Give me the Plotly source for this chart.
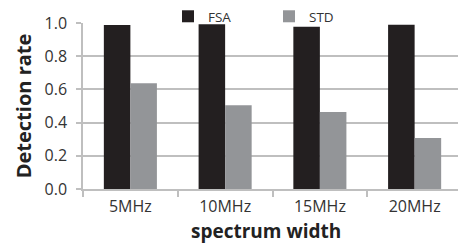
import plotly.graph_objects as go

categories = ["5MHz", "10MHz", "15MHz", "20MHz"]
fsa = [0.988, 0.992, 0.978, 0.990]
std = [0.637, 0.504, 0.464, 0.307]
y_ticks = [0.0, 0.2, 0.4, 0.6, 0.8, 1.0]
y_tick_labels = ["0.0", "0.2", "0.4", "0.6", "0.8", "1.0"]

FONT = "Open Sans, Lato, sans-serif"
# page body has an 8px margin, so the figure is drawn 8px in from the window's top-left
W, H = 458, 239
ML, MR, MT, MB = 75, 4, 15, 58
PLOT_W = W - ML - MR
PLOT_H = H - MT - MB

fig = go.Figure()
fig.add_trace(go.Bar(name="FSA", x=categories, y=fsa, marker=dict(color="#231f20", line=dict(width=0))))
fig.add_trace(go.Bar(name="STD", x=categories, y=std, marker=dict(color="#939598", line=dict(width=0))))

fig.update_layout(
    width=W, height=H,
    margin=dict(l=ML, r=MR, t=MT, b=MB, autoexpand=False),
    paper_bgcolor="white", plot_bgcolor="white",
    barmode="group", bargap=0.44, bargroupgap=0,
    font=dict(family=FONT, size=16, color="#333333"),
    showlegend=True,
    legend=dict(orientation="h", x=(168 - ML - 8) / PLOT_W, xanchor="left",
                y=1 + 6.5 / PLOT_H, yanchor="middle",
                font=dict(size=13.5, color="#333333"), itemwidth=30,
                entrywidth=56, entrywidthmode="pixels",
                bgcolor="rgba(0,0,0,0)", tracegroupgap=0),
    annotations=[dict(text="<b>spectrum width</b>", xref="paper", yref="paper",
                      x=(257.5 - ML) / PLOT_W, y=-42 / PLOT_H, xanchor="center", yanchor="middle",
                      showarrow=False, font=dict(size=19, family=FONT, color="#222222"))],
)
fig.update_xaxes(
    showline=True, linecolor="#bfbfbf", linewidth=1.5,
    ticks="outside", tickson="boundaries", ticklen=6, tickcolor="#bfbfbf", tickwidth=1.5,
    ticklabelstandoff=2,
    tickfont=dict(size=16, family=FONT, color="#333333"),
    showgrid=False,
)
fig.update_yaxes(
    range=[0, 1.0], tickvals=y_ticks, ticktext=y_tick_labels,
    showgrid=True, gridcolor="#bfbfbf", gridwidth=1.5,
    zeroline=False, showline=True, linecolor="#bfbfbf", linewidth=1.5,
    ticks="outside", ticklen=5, tickcolor="#bfbfbf", tickwidth=1.5,
    ticklabelstandoff=6,
    tickfont=dict(size=16, family=FONT, color="#333333"),
    title=dict(text="<b>Detection rate</b>", font=dict(size=20, family=FONT, color="#222222"), standoff=8),
)
fig.write_html("out.html")
